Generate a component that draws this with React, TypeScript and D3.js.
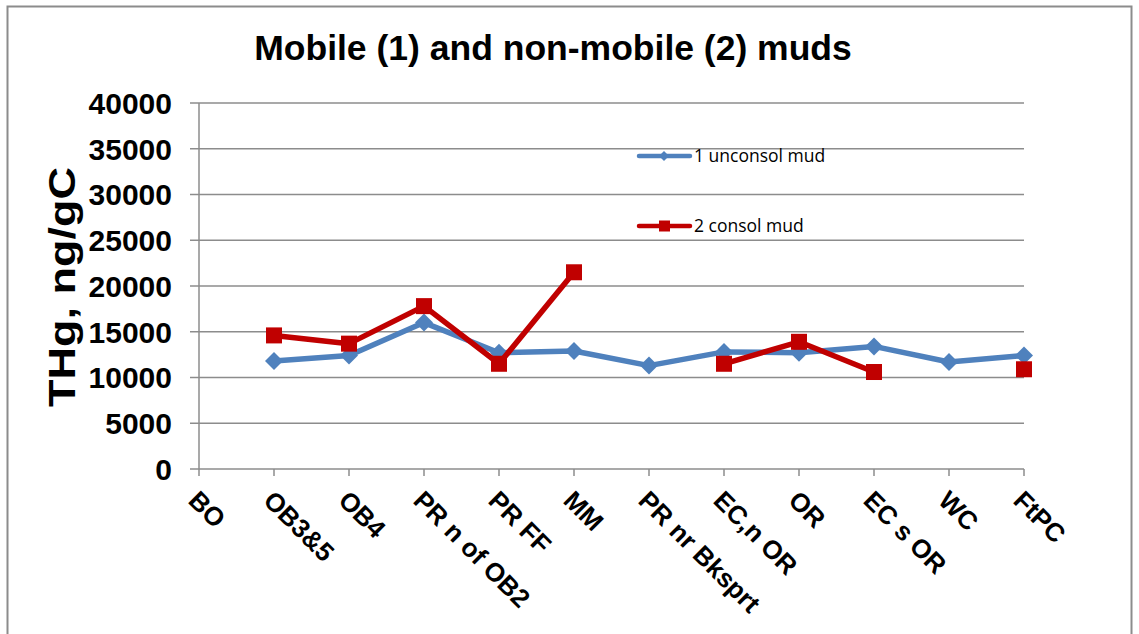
import React from "react";
import * as d3 from "d3";

const categories = ["BO", "OB3&5", "OB4", "PR n of OB2", "PR FF", "MM", "PR nr Bksprt", "EC,n OR", "OR", "EC s OR", "WC", "FtPC"];
const unconsol: (number | null)[] = [null, 11800, 12400, 16000, 12700, 12900, 11300, 12800, 12700, 13400, 11700, 12400];
const consol: (number | null)[] = [null, 14600, 13700, 17800, 11500, 21500, null, 11500, 13900, 10600, null, 10900];
const yTicks = [0, 5000, 10000, 15000, 20000, 25000, 30000, 35000, 40000];
const seriesNames = ["1 unconsol mud", "2 consol mud"];

const W = 1139, H = 634;
const left = 199, right = 1024, top = 103, bottom = 469;
const FONT = "'Liberation Sans', Arial, sans-serif";
const BLUE = "#4f81bd";
const RED = "#c00000";

export default function App() {
  const x = d3.scalePoint<string>().domain(categories).range([left, right]);
  const y = d3.scaleLinear().domain([0, 40000]).range([bottom, top]);
  const line = d3
    .line<number | null>()
    .defined((d) => d !== null)
    .x((_, i) => x(categories[i])!)
    .y((d) => y(d as number));

  const diamond = (cx: number, cy: number, r: number) =>
    `M${cx},${cy - r}L${cx + r},${cy}L${cx},${cy + r}L${cx - r},${cy}Z`;

  return (
    <svg width={W} height={H} style={{ position: "absolute", left: 0, top: 0, background: "#fff" }} fontFamily={FONT}>
      <rect x={7.5} y={6.5} width={1124} height={640} fill="#fff" stroke="#8c8c8c" strokeWidth={2} />
      <text x={553} y={60} textAnchor="middle" fontSize={35.5} fontWeight="bold">
        Mobile (1) and non-mobile (2) muds
      </text>
      {yTicks.map((t) => (
        <g key={t}>
          <line x1={left} x2={right} y1={y(t)} y2={y(t)} stroke="#8c8c8c" strokeWidth={1.5} />
          <line x1={left - 9} x2={left} y1={y(t)} y2={y(t)} stroke="#8c8c8c" strokeWidth={1.5} />
          <text x={172} y={y(t)} dy="0.36em" textAnchor="end" fontSize={30} fontWeight="bold">
            {t}
          </text>
        </g>
      ))}
      <line x1={left} x2={left} y1={top} y2={bottom} stroke="#8c8c8c" strokeWidth={1.5} />
      {categories.map((c) => (
        <g key={c}>
          <line x1={x(c)!} x2={x(c)!} y1={bottom} y2={bottom + 7} stroke="#8c8c8c" strokeWidth={1.5} />
          <text transform={`translate(${x(c)! - 12},${bottom + 33}) rotate(45)`} fontSize={26} fontWeight="bold">
            {c}
          </text>
        </g>
      ))}
      <text
        transform={`translate(75,287) rotate(-90)`}
        textAnchor="middle"
        fontSize={37}
        fontWeight="bold"
        textLength={240}
        lengthAdjust="spacingAndGlyphs"
      >
        THg, ng/gC
      </text>

      <path d={line(unconsol) || ""} fill="none" stroke={BLUE} strokeWidth={5.5} strokeLinejoin="round" />
      {unconsol.map((v, i) =>
        v === null ? null : <path key={i} d={diamond(x(categories[i])!, y(v), 9)} fill={BLUE} />
      )}
      <path d={line(consol) || ""} fill="none" stroke={RED} strokeWidth={5.5} strokeLinejoin="round" />
      {consol.map((v, i) =>
        v === null ? null : (
          <rect key={i} x={x(categories[i])! - 8} y={y(v) - 8} width={16} height={16} fill={RED} />
        )
      )}

      <g>
        <line x1={639} x2={690} y1={156} y2={156} stroke={BLUE} strokeWidth={4.5} strokeLinecap="round" />
        <path d={diamond(664, 156, 5)} fill={BLUE} />
        <text x={694} y={156} dy="0.36em" fontSize={17.5} fontFamily="'Open Sans', sans-serif">
          {seriesNames[0]}
        </text>
        <line x1={639} x2={690} y1={226} y2={226} stroke={RED} strokeWidth={4.5} strokeLinecap="round" />
        <rect x={659} y={220.5} width={11} height={11} fill={RED} />
        <text x={694} y={226} dy="0.36em" fontSize={17.5} fontFamily="'Open Sans', sans-serif">
          {seriesNames[1]}
        </text>
      </g>
    </svg>
  );
}
